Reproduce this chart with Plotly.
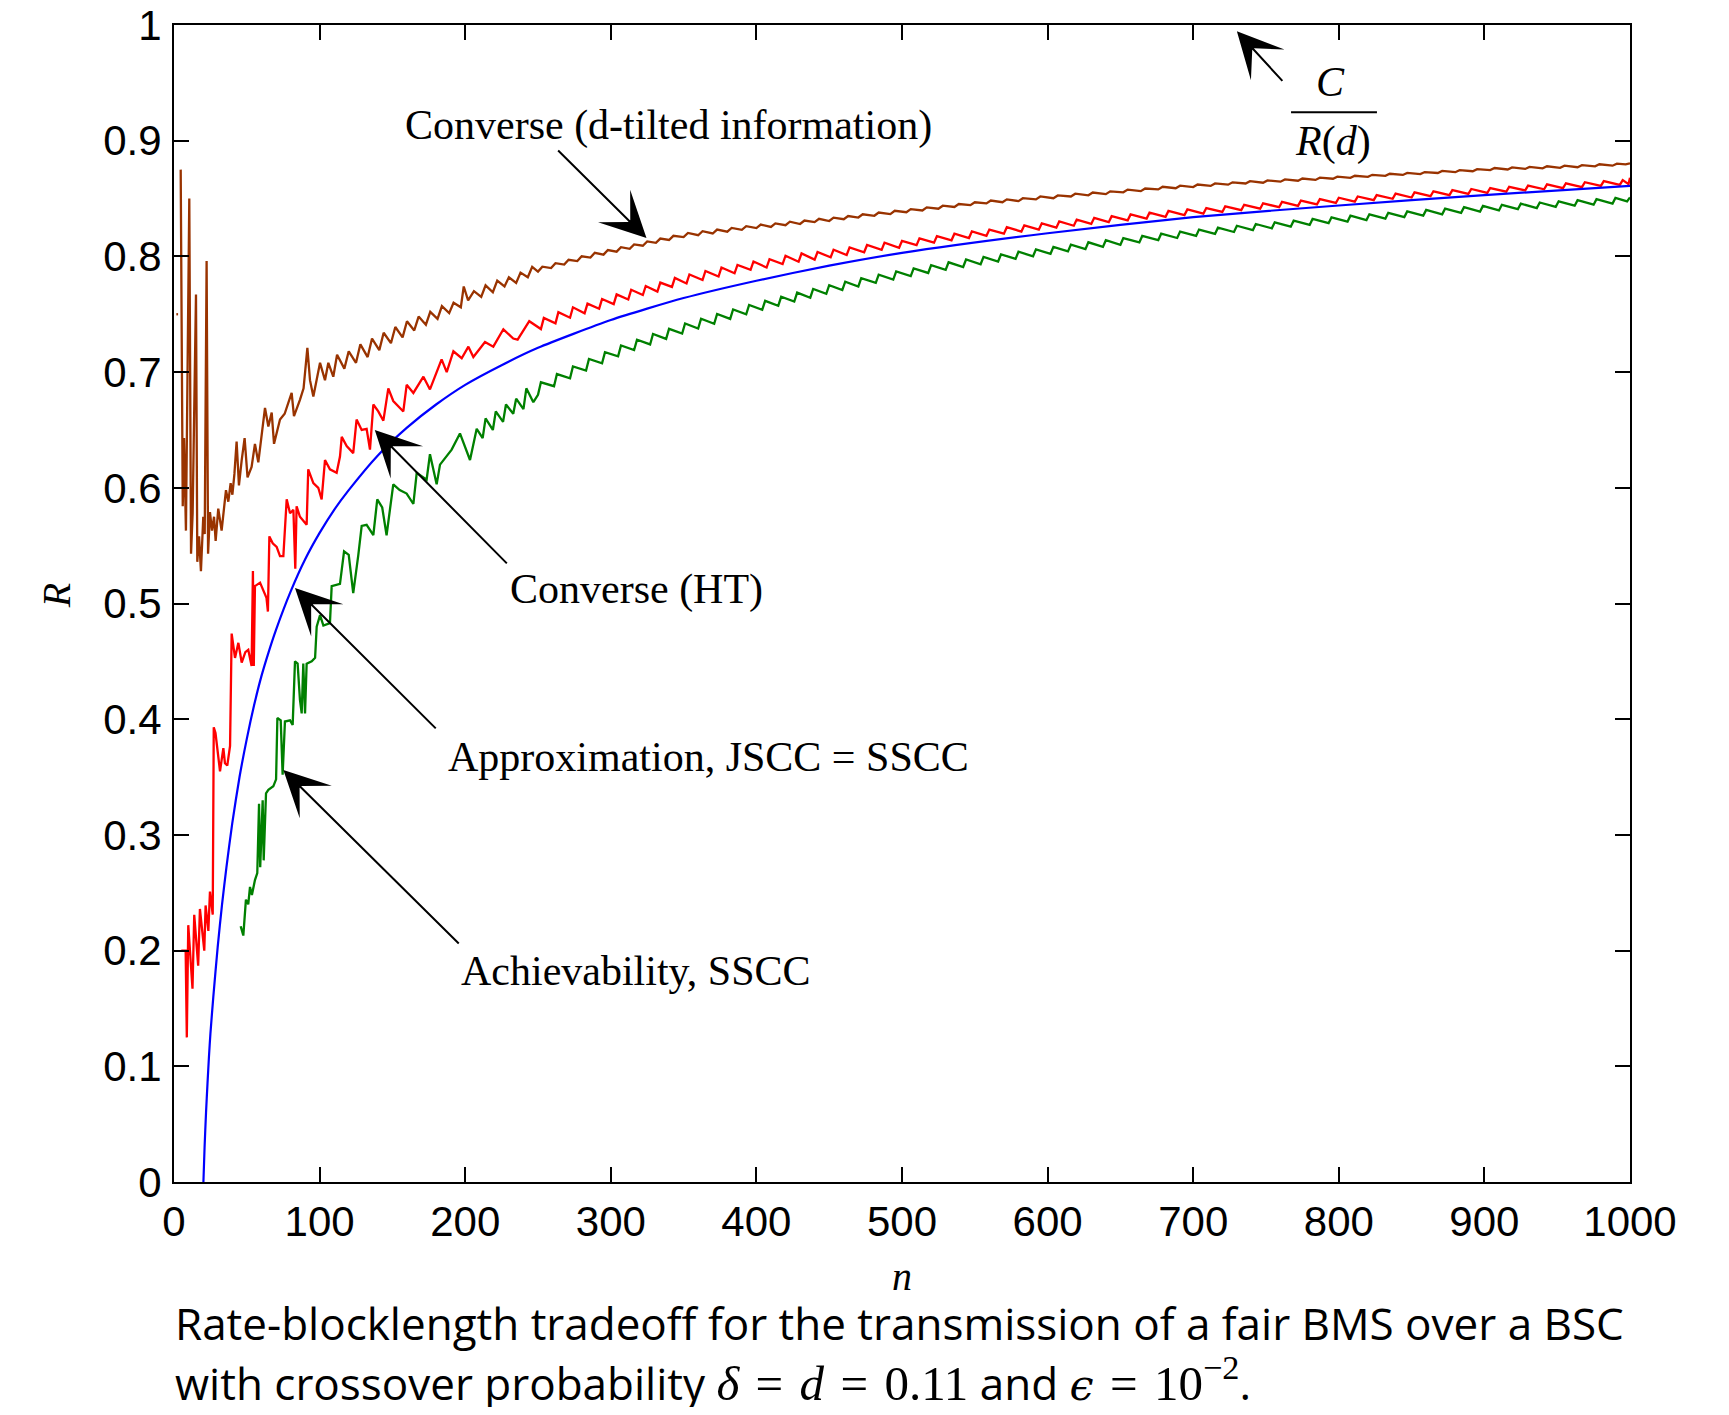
import plotly.graph_objects as go

# ---------------- data ----------------
# Blue: approximation, JSCC = SSCC
blue_n = [20.2, 21, 22, 23, 24, 25, 27, 30, 33, 36, 40, 45, 50, 55, 60, 65, 70, 80, 90, 100,
          110, 120, 140, 160, 180, 200, 225, 250, 300, 350, 400, 450, 500, 600, 700, 800, 900, 1000]
blue_r = [0.000, 0.030, 0.060, 0.085, 0.108, 0.128, 0.160, 0.203, 0.240, 0.272, 0.310, 0.350,
          0.383, 0.412, 0.437, 0.458, 0.477, 0.510, 0.538, 0.561, 0.581, 0.598, 0.628, 0.652,
          0.672, 0.689, 0.706, 0.721, 0.745, 0.764, 0.779, 0.792, 0.803, 0.820, 0.834, 0.844,
          0.853, 0.861]

# Red: converse (HT)
red_early = [(5, 0.200), (8, 0.200), (8.8, 0.125), (9.8, 0.222), (12.7, 0.167), (13.9, 0.231),
             (16.6, 0.187), (17.8, 0.236), (20.8, 0.200), (21.7, 0.239), (23.6, 0.217), (24.7, 0.251),
             (26.6, 0.231), (27.3, 0.393), (28.5, 0.388), (31.6, 0.355), (33.9, 0.375), (35.0, 0.362),
             (36.6, 0.360), (38.5, 0.377), (39.6, 0.474), (41.9, 0.453), (44.2, 0.466), (46.5, 0.449),
             (49, 0.458), (51, 0.460), (53.3, 0.446), (54.2, 0.528), (54.8, 0.446), (55.6, 0.515),
             (59.1, 0.518), (61.3, 0.512), (63.5, 0.505), (64.5, 0.493), (65.5, 0.558), (67.8, 0.552),
             (70.5, 0.549), (72.8, 0.541), (75.1, 0.541), (77.4, 0.590), (79.7, 0.578), (82.0, 0.581),
             (83.3, 0.530), (84.2, 0.584), (86.5, 0.575), (91.1, 0.568), (92.2, 0.616), (95.7, 0.604),
             (99.1, 0.600), (101.4, 0.590), (103.7, 0.624), (107.1, 0.616), (111.7, 0.613), (114.0, 0.627),
             (115.2, 0.644), (118.6, 0.636), (123.1, 0.630), (125.4, 0.659), (128.9, 0.650), (132.3, 0.651),
             (134.6, 0.633), (136.9, 0.672), (140.3, 0.666), (143.8, 0.658), (147.2, 0.686), (150.6, 0.675),
             (157.5, 0.666), (159.8, 0.689), (164.4, 0.682), (171.3, 0.696), (175.8, 0.685), (183.8, 0.711),
             (187.3, 0.700), (191.9, 0.718), (197.6, 0.712), (202.2, 0.722), (205.6, 0.713), (213.6, 0.726),
             (219.3, 0.722), (226.2, 0.737), (233.0, 0.729), (236, 0.728), (244, 0.744)]
red_tail = [(252, 0.7372), (254, 0.7468), (262, 0.7422), (264, 0.7518), (272, 0.747), (274, 0.756),
            (282, 0.7508), (284, 0.7592), (292, 0.7548), (294, 0.7632), (302, 0.7588), (304, 0.7672),
            (312, 0.7628), (314, 0.7712), (322, 0.7666), (324, 0.7744), (332, 0.7696), (334, 0.7774),
            (342, 0.7736), (344, 0.7814), (352, 0.7766), (354, 0.7844), (363, 0.7796), (365, 0.7874),
            (374, 0.7826), (376, 0.7904), (385, 0.7854), (387, 0.7926), (396, 0.7884), (398, 0.7956),
            (407, 0.7904), (409, 0.7976), (418, 0.7934), (420, 0.8006), (429, 0.7954), (431, 0.8026),
            (440, 0.7972), (442, 0.8038), (451, 0.7992), (453, 0.8058), (462, 0.8012), (464, 0.8078),
            (474, 0.8036), (476, 0.8099), (486, 0.8056), (488, 0.8119), (498, 0.8075), (500, 0.8135),
            (510, 0.8097), (512, 0.8156), (522, 0.8119), (524, 0.8176), (534, 0.8139), (536, 0.8196),
            (546, 0.8159), (548, 0.8216), (558, 0.8178), (560, 0.8232), (570, 0.8196), (572, 0.8252),
            (582, 0.8215), (584, 0.8269), (594, 0.8232), (596, 0.8286), (606, 0.8248), (608, 0.8302),
            (618, 0.8265), (620, 0.8318), (630, 0.8281), (632, 0.8333), (642, 0.8296), (644, 0.8348),
            (655, 0.8312), (657, 0.8363), (668, 0.8327), (670, 0.8378), (681, 0.8342), (683, 0.8393),
            (694, 0.8357), (696, 0.8406), (707, 0.837), (709, 0.8418), (720, 0.8384), (722, 0.8432),
            (733, 0.8399), (735, 0.8446), (746, 0.8412), (748, 0.8459), (759, 0.8425), (761, 0.8471),
            (772, 0.8437), (774, 0.8483), (785, 0.845), (787, 0.8495), (798, 0.8462), (800, 0.8507),
            (811, 0.8474), (813, 0.8518), (824, 0.8486), (826, 0.853), (837, 0.8498), (839, 0.8542),
            (850, 0.8509), (852, 0.8553), (863, 0.852), (865, 0.8563), (876, 0.853), (878, 0.8573),
            (889, 0.854), (891, 0.8583), (902, 0.8549), (904, 0.8591), (915, 0.8559), (917, 0.8601),
            (928, 0.857), (930, 0.8612), (941, 0.858), (943, 0.8622), (954, 0.859), (956, 0.8632),
            (967, 0.8599), (969, 0.8641), (980, 0.8609), (982, 0.8651), (993, 0.8618), (995, 0.866),
            (999, 0.8625), (1000, 0.868)]

# Green: achievability, SSCC
green_early = [(45.8, 0.221), (47.6, 0.213), (49.4, 0.244), (51, 0.240), (52.2, 0.255), (53.5, 0.248),
               (55.6, 0.261), (57.2, 0.267), (58.4, 0.327), (59.2, 0.272), (60.9, 0.330), (61.6, 0.278),
               (63.2, 0.336), (64.8, 0.339), (68.2, 0.342), (70.1, 0.348), (71, 0.401), (73.3, 0.399),
               (74.6, 0.352), (76.2, 0.398), (79.7, 0.399), (81.5, 0.395), (83.1, 0.450), (84.9, 0.448),
               (86.5, 0.417), (87.7, 0.405), (88.8, 0.448), (90, 0.405), (91.1, 0.448), (94.6, 0.450),
               (96.9, 0.453), (98, 0.480), (100.3, 0.490), (102.6, 0.481), (107.1, 0.483), (108.3, 0.515),
               (114, 0.517), (116.8, 0.545), (120, 0.542), (123.1, 0.509), (126.6, 0.542), (128.9, 0.567),
               (132.3, 0.568), (136.9, 0.559), (139.6, 0.590), (143, 0.583), (146, 0.559), (150.6, 0.603),
               (155, 0.598), (159.8, 0.595), (164.4, 0.586), (166.7, 0.613), (173.5, 0.607), (175.8, 0.629),
               (180.4, 0.603), (182.7, 0.620), (190.7, 0.633), (196.4, 0.647), (203.3, 0.624), (207.9, 0.651),
               (212, 0.643), (214, 0.660), (219, 0.650), (221, 0.666), (226, 0.657), (228, 0.672),
               (233, 0.664), (235, 0.677), (240, 0.668), (242, 0.686), (246.8, 0.674)]
green_tail = [(250, 0.6804), (252, 0.6912), (261, 0.6878), (263, 0.6983), (272, 0.6947), (274, 0.7049),
              (283, 0.7014), (285, 0.7113), (294, 0.7076), (296, 0.7172), (305, 0.7137), (307, 0.723),
              (316, 0.719), (318, 0.728), (327, 0.7239), (329, 0.7329), (338, 0.7287), (340, 0.7374),
              (349, 0.7333), (351, 0.742), (360, 0.7377), (362, 0.7461), (371, 0.7418), (373, 0.7502),
              (382, 0.746), (384, 0.7541), (393, 0.7499), (395, 0.758), (404, 0.7538), (406, 0.7616),
              (415, 0.7573), (417, 0.7651), (426, 0.761), (428, 0.7687), (437, 0.7643), (439, 0.7719),
              (448, 0.7677), (450, 0.7751), (459, 0.7709), (461, 0.7782), (470, 0.774), (472, 0.7812),
              (482, 0.7771), (484, 0.7842), (494, 0.78), (496, 0.787), (506, 0.7829), (508, 0.7897),
              (518, 0.7857), (520, 0.7924), (530, 0.7883), (532, 0.7949), (542, 0.7908), (544, 0.7973),
              (554, 0.7932), (556, 0.7996), (566, 0.7956), (568, 0.8018), (578, 0.7979), (580, 0.804),
              (590, 0.8001), (592, 0.8061), (602, 0.8023), (604, 0.8083), (614, 0.8043), (616, 0.8102),
              (626, 0.8063), (628, 0.8122), (638, 0.8082), (640, 0.814), (650, 0.81), (652, 0.8158),
              (663, 0.8121), (665, 0.8177), (676, 0.814), (678, 0.8196), (689, 0.8159), (691, 0.8214),
              (702, 0.8177), (704, 0.8232), (715, 0.8194), (717, 0.8248), (728, 0.8211), (730, 0.8265),
              (741, 0.8228), (743, 0.828), (754, 0.8243), (756, 0.8295), (767, 0.8257), (769, 0.8309),
              (780, 0.8272), (782, 0.8324), (793, 0.8287), (795, 0.8338), (806, 0.8301), (808, 0.8352),
              (819, 0.8314), (821, 0.8364), (832, 0.8327), (834, 0.8377), (845, 0.834), (847, 0.8389),
              (858, 0.8353), (860, 0.8402), (871, 0.8364), (873, 0.8413), (884, 0.8376), (886, 0.8425),
              (897, 0.8387), (899, 0.8436), (910, 0.8397), (912, 0.8446), (923, 0.8408), (925, 0.8456),
              (936, 0.8418), (938, 0.8466), (949, 0.8428), (951, 0.8476), (962, 0.8438), (964, 0.8486),
              (975, 0.8447), (977, 0.8495), (988, 0.8457), (990, 0.8505), (998, 0.8475), (1000, 0.851)]

# Brown: converse (d-tilted information)
brown_early = [(1.6, 0.750), (2.8, 0.750), (2.9, None), (4.6, 0.875), (6.0, 0.584), (6.9, 0.643),
               (8.2, 0.563), (10.5, 0.850), (11.7, 0.543), (12.8, 0.578), (15.1, 0.767), (16.0, 0.536),
               (17.2, 0.558), (18.5, 0.528), (20.1, 0.575), (21.1, 0.560), (22.4, 0.796), (23.4, 0.543),
               (24.7, 0.579), (26.1, 0.563), (27.5, 0.575), (28.6, 0.554), (30.4, 0.582), (32.7, 0.563),
               (33.9, 0.575), (35.7, 0.598), (37.3, 0.588), (38.9, 0.604), (40.1, 0.594), (41.5, 0.612),
               (43.0, 0.640), (44.6, 0.602), (46.5, 0.624), (48.5, 0.643), (50.5, 0.609), (53.3, 0.618),
               (55.6, 0.638), (57.9, 0.622), (62.5, 0.669), (64.8, 0.653), (67.1, 0.665), (68.7, 0.638),
               (72.8, 0.659), (76.0, 0.664), (80.8, 0.682), (82.4, 0.662), (86.5, 0.676), (89.0, 0.686),
               (91.6, 0.721), (93.4, 0.693), (95.7, 0.679), (100.3, 0.708), (103.7, 0.693), (106, 0.708),
               (109.4, 0.696), (112, 0.715), (117, 0.703), (120, 0.718), (125, 0.708), (128, 0.724),
               (133, 0.713), (136, 0.729), (141, 0.719), (144, 0.734), (149, 0.725), (152, 0.739),
               (157, 0.730), (160, 0.744), (165, 0.736), (168, 0.748), (173, 0.741), (176, 0.752),
               (181, 0.746), (184, 0.757), (189, 0.751), (192, 0.760), (197, 0.756), (199, 0.774),
               (202, 0.762), (206, 0.770), (211, 0.765), (214, 0.775), (219, 0.769), (222, 0.779),
               (227, 0.774), (230, 0.782), (235, 0.777), (238, 0.786), (243, 0.782), (246, 0.791)]
brown_tail = [(250, 0.7869), (253, 0.7911), (259, 0.7899), (262, 0.7941), (268, 0.7929), (271, 0.7971),
              (277, 0.7959), (280, 0.8001), (286, 0.799), (289, 0.8031), (295, 0.8015), (298, 0.8055),
              (304, 0.8041), (307, 0.808), (313, 0.8066), (316, 0.8104), (322, 0.8092), (325, 0.8129),
              (331, 0.8117), (334, 0.8154), (340, 0.8142), (343, 0.8178), (350, 0.8167), (353, 0.8203),
              (360, 0.8183), (363, 0.8218), (370, 0.8198), (373, 0.8232), (380, 0.8214), (383, 0.8246),
              (390, 0.823), (393, 0.8261), (400, 0.8245), (403, 0.8275), (410, 0.8255), (413, 0.8285),
              (420, 0.827), (423, 0.83), (430, 0.828), (433, 0.831), (440, 0.8296), (443, 0.8325),
              (450, 0.8306), (453, 0.8335), (460, 0.8321), (463, 0.8349), (470, 0.8336), (473, 0.8364),
              (481, 0.8351), (484, 0.8379), (492, 0.8366), (495, 0.8394), (503, 0.8382), (506, 0.8409),
              (514, 0.8397), (517, 0.8424), (525, 0.8412), (528, 0.8438), (536, 0.8427), (539, 0.8453),
              (547, 0.8443), (550, 0.8468), (558, 0.8458), (561, 0.8483), (569, 0.8468), (572, 0.8493),
              (580, 0.8478), (583, 0.8503), (592, 0.8493), (595, 0.8518), (604, 0.8503), (607, 0.8527),
              (616, 0.8518), (619, 0.8542), (628, 0.8528), (631, 0.8552), (640, 0.8538), (643, 0.8562),
              (652, 0.8554), (655, 0.8577), (664, 0.8564), (667, 0.8587), (676, 0.8579), (679, 0.8602),
              (688, 0.8589), (691, 0.8611), (700, 0.8599), (703, 0.8621), (712, 0.8609), (715, 0.8631),
              (724, 0.862), (727, 0.864), (736, 0.863), (739, 0.865), (748, 0.8637), (751, 0.8657),
              (760, 0.8646), (763, 0.8665), (772, 0.8654), (775, 0.8673), (784, 0.8661), (787, 0.868),
              (796, 0.8671), (799, 0.8689), (808, 0.8679), (811, 0.8697), (820, 0.8687), (823, 0.8705),
              (832, 0.8696), (835, 0.8714), (844, 0.8704), (847, 0.8722), (856, 0.8711), (859, 0.8729),
              (868, 0.8721), (871, 0.8739), (880, 0.8728), (883, 0.8746), (892, 0.8736), (895, 0.8754),
              (904, 0.8746), (907, 0.8764), (916, 0.8751), (919, 0.8769), (928, 0.8756), (931, 0.8774),
              (940, 0.8761), (943, 0.8779), (952, 0.8766), (955, 0.8784), (964, 0.8771), (967, 0.8789),
              (976, 0.8778), (979, 0.8796), (988, 0.8784), (991, 0.8802), (997, 0.8795), (1000, 0.8805)]

x_ticks = [0, 100, 200, 300, 400, 500, 600, 700, 800, 900, 1000]
y_ticks = [0, 0.1, 0.2, 0.3, 0.4, 0.5, 0.6, 0.7, 0.8, 0.9, 1.0]
y_tick_text = ["0", "0.1", "0.2", "0.3", "0.4", "0.5", "0.6", "0.7", "0.8", "0.9", "1"]

# ---------------- figure ----------------
def unzip(pts):
    return [p[0] for p in pts], [p[1] for p in pts]

fig = go.Figure()
series = [
    (brown_early + brown_tail, "#993300"),
    (red_early + red_tail, "#ff0000"),
    (green_early + green_tail, "#008000"),
]
for pts, col in series:
    xs, ys = unzip(pts)
    fig.add_trace(go.Scatter(x=xs, y=ys, mode="lines", line=dict(color=col, width=2.3),
                             connectgaps=False, hoverinfo="skip"))
fig.add_trace(go.Scatter(x=blue_n, y=blue_r, mode="lines",
                         line=dict(color="#0000ff", width=2.2, shape="spline", smoothing=0.6),
                         hoverinfo="skip"))

serif = "Liberation Serif, Times New Roman, serif"
sans = "Liberation Sans, Arial, Helvetica, sans-serif"

axis_common = dict(showline=True, linecolor="black", linewidth=2, mirror="ticks",
                   ticks="inside", ticklen=15, tickwidth=1.5, tickcolor="black",
                   showgrid=False, zeroline=False, automargin=False, ticklabeloverflow="allow",
                   tickfont=dict(family=sans, size=42, color="black"))
fig.update_xaxes(range=[0, 1000], tickvals=x_ticks, ticklabelstandoff=2, **axis_common)
fig.update_yaxes(range=[0, 1], tickvals=y_ticks, ticktext=y_tick_text,
                 ticklabelstandoff=2, **axis_common)

# the page body adds an 8px offset; the figure is sized so the plot box lands where the reference has it
fig.update_layout(width=1713, height=1399, margin=dict(l=166, r=91, t=17, b=225),
                  plot_bgcolor="white", paper_bgcolor="white", showlegend=False)

ann = []
labels = [
    ("Converse (d-tilted information)", 339.6, 0.913),
    ("Converse (HT)", 317.9, 0.512),
    ("Approximation, JSCC = SSCC", 367.1, 0.367),
    ("Achievability, SSCC", 317.3, 0.182),
]
for txt, xx, yy in labels:
    ann.append(dict(x=xx, y=yy, xref="x", yref="y", text=txt, showarrow=False,
                    xanchor="center", yanchor="middle",
                    font=dict(family=serif, size=42, color="black")))
# arrows: (tip n, tip R, tail n, tail R)
arrows = [
    (324.5, 0.8158, 262.8, 0.8928),
    (137.9, 0.650, 229.6, 0.5334),
    (83.1, 0.5133, 180.8, 0.3908),
    (75.1, 0.3562, 196.6, 0.2049),
    (730.0, 0.9945, 762.2, 0.9504),
]
for tx, ty, sx, sy in arrows:
    ann.append(dict(x=tx, y=ty, ax=sx, ay=sy, xref="x", yref="y", axref="x", ayref="y",
                    text="", showarrow=True, arrowhead=3, arrowsize=3.8, arrowwidth=2.0,
                    arrowcolor="black", standoff=0, startstandoff=0))
# fraction C / R(d)
ann.append(dict(x=794.6, y=0.951, xref="x", yref="y", text="<i>C</i>", showarrow=False,
                xanchor="center", yanchor="middle", font=dict(family=serif, size=42, color="black")))
ann.append(dict(x=796.0, y=0.899, xref="x", yref="y", text="<i>R</i>(<i>d</i>)", showarrow=False,
                xanchor="center", yanchor="middle", font=dict(family=serif, size=42, color="black")))
# axis titles
ann.append(dict(x=0.5, y=-0.082, xref="paper", yref="paper", text="<i>n</i>", showarrow=False,
                xanchor="center", yanchor="middle", font=dict(family=serif, size=40, color="black")))
ann.append(dict(x=-0.0805, y=0.507, xref="paper", yref="paper", text="<i>R</i>", showarrow=False,
                textangle=-90, xanchor="center", yanchor="middle",
                font=dict(family=serif, size=40, color="black")))
# caption
cap_font = dict(family="Open Sans, Lato, sans-serif", size=44, color="black")
ann.append(dict(x=-0.001, y=-0.1215, xref="paper", yref="paper",
                text="Rate-blocklength tradeoff for the transmission of a fair BMS over a BSC",
                showarrow=False, xanchor="left", yanchor="middle", font=cap_font))
ann.append(dict(x=-0.001, y=-0.1712, xref="paper", yref="paper",
                text="with crossover probability "
                     "<span style='font-family:Liberation Serif;font-size:49px'><i>δ</i> &#8202;=&#8202; <i>d</i> &#8202;=&#8202; 0.11</span>"
                     " and <span style='font-family:DejaVu Serif;font-size:43px'><i>ϵ</i></span>"
                     "<span style='font-family:Liberation Serif;font-size:49px'> &#8202;=&#8202; 10<sup>−2</sup></span>.",
                showarrow=False, xanchor="left", yanchor="middle", font=cap_font))
fig.update_layout(annotations=ann)

fig.add_shape(type="line", xref="x", yref="y", x0=767.2, x1=826.2, y0=0.9245, y1=0.9245,
              line=dict(color="black", width=2))

fig.write_html("out.html")
